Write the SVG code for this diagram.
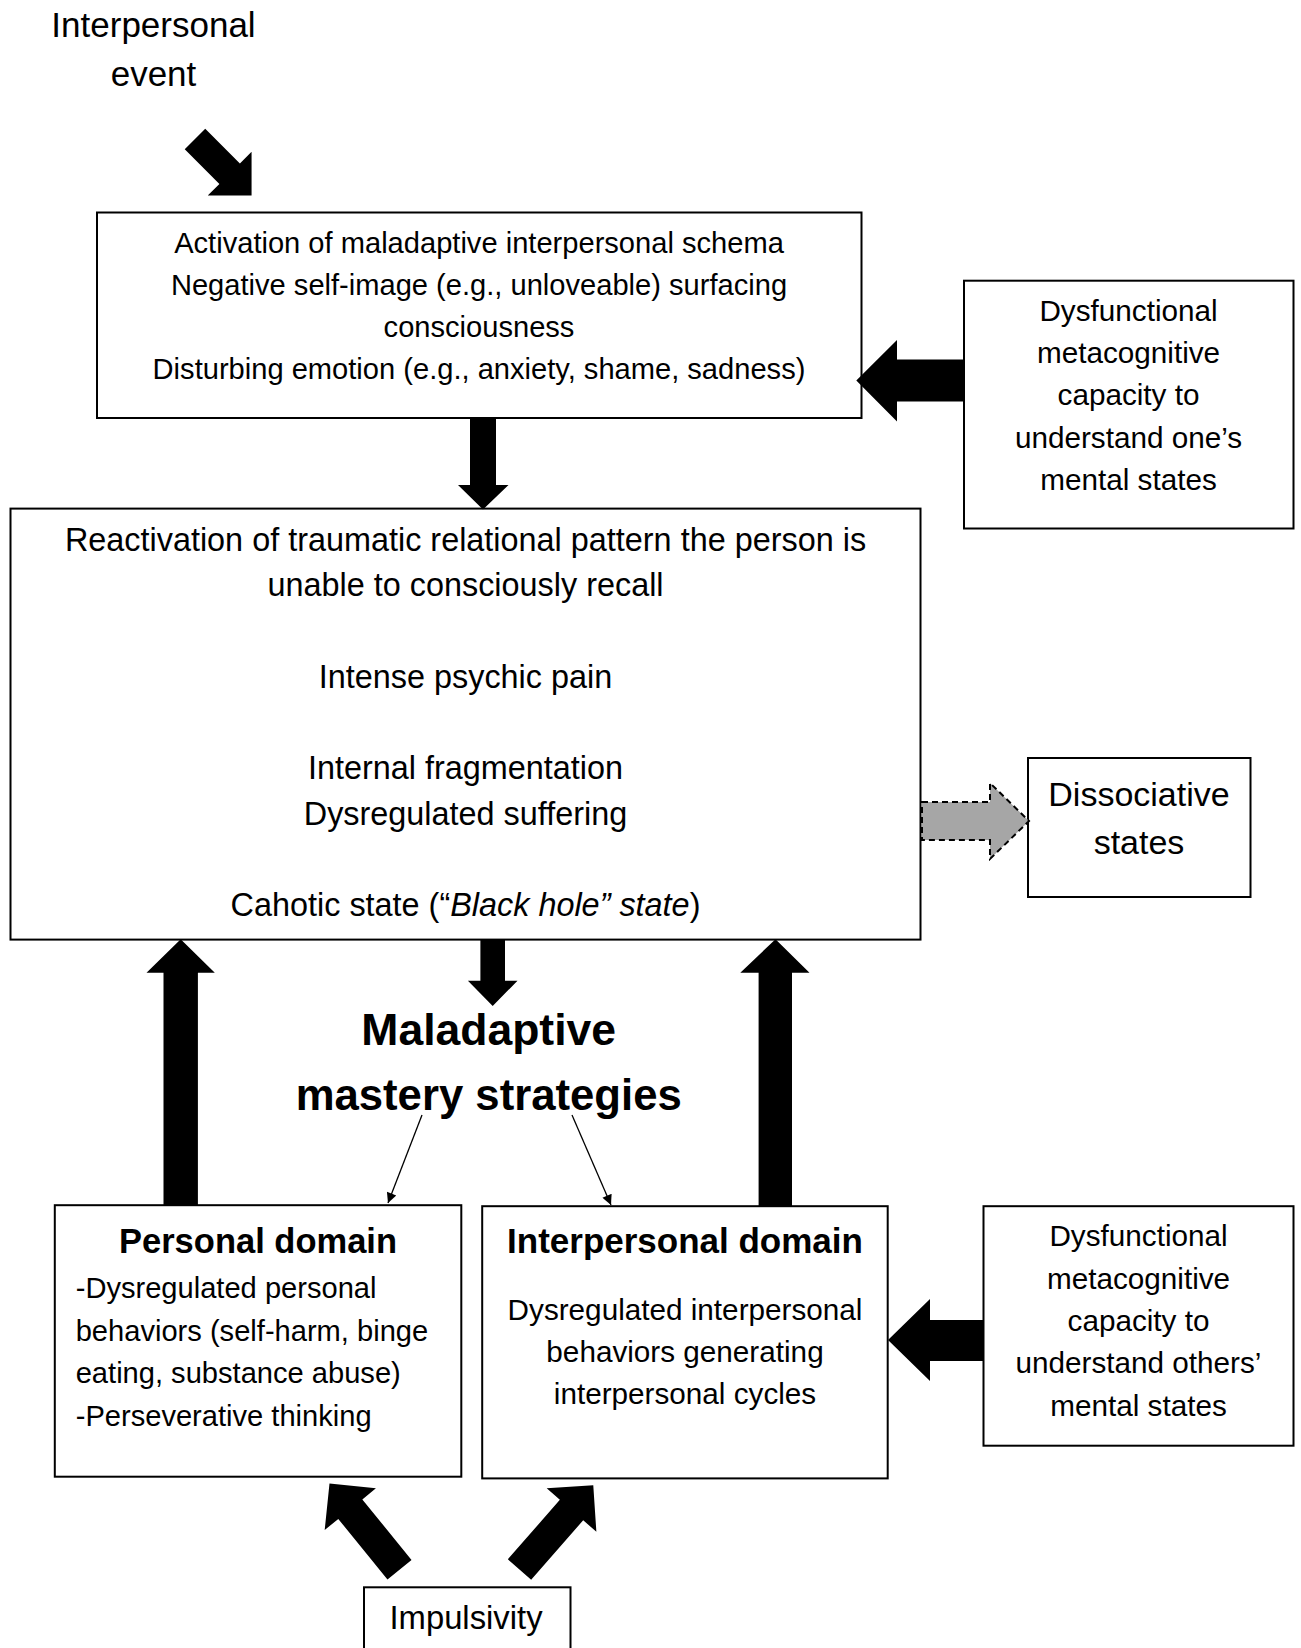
<svg xmlns="http://www.w3.org/2000/svg" width="1301" height="1648" viewBox="0 0 1301 1648">
<defs>
<style>
.box{fill:#fff;stroke:#000;stroke-width:2}
.t{font-family:"Liberation Sans",Arial,sans-serif;fill:#000;text-anchor:middle}
.s{font-size:29.7px}
.s2{font-size:29.1px}
.m{font-size:32.4px}
.b{font-weight:bold}
.l{text-anchor:start}
.blk{fill:#000;stroke:none}
.thin{stroke:#000;stroke-width:1.3;fill:none;marker-end:url(#ah)}
</style>
<marker id="ah" viewBox="0 0 10 10" refX="10" refY="5" markerWidth="12" markerHeight="10" markerUnits="userSpaceOnUse" orient="auto">
<path d="M0,0 L10,5 L0,10 Z" fill="#000"/>
</marker>
</defs>
<rect width="1301" height="1648" fill="#fff"/>

<g id="event">
<text class="t" x="153.5" y="37" font-size="35">Interpersonal</text>
<text class="t" x="153.5" y="86" font-size="35">event</text>
</g>

<g id="activation">
<rect class="box" x="97" y="212.5" width="764.5" height="205.5"/>
<text class="t s2" x="479" y="252.5">Activation of maladaptive interpersonal schema</text>
<text class="t s2" x="479" y="294.5">Negative self-image (e.g., unloveable) surfacing</text>
<text class="t s2" x="479" y="336.5">consciousness</text>
<text class="t s2" x="479" y="378.5">Disturbing emotion (e.g., anxiety, shame, sadness)</text>
</g>

<g id="meta-self">
<rect class="box" x="964" y="280.7" width="329.5" height="247.8"/>
<text class="t s" x="1128.5" y="320.5">Dysfunctional</text>
<text class="t s" x="1128.5" y="362.5">metacognitive</text>
<text class="t s" x="1128.5" y="405">capacity to</text>
<text class="t s" x="1128.5" y="447.5">understand one’s</text>
<text class="t s" x="1128.5" y="489.5">mental states</text>
</g>

<g id="reactivation">
<rect class="box" x="10.5" y="508.6" width="910" height="431"/>
<text class="t m" x="465.5" y="550.7">Reactivation of traumatic relational pattern the person is</text>
<text class="t m" x="465.5" y="596.3">unable to consciously recall</text>
<text class="t m" x="465.5" y="687.5">Intense psychic pain</text>
<text class="t m" x="465.5" y="779">Internal fragmentation</text>
<text class="t m" x="465.5" y="825">Dysregulated suffering</text>
<text class="t m" x="465.5" y="916">Cahotic state (“<tspan font-style="italic">Black hole” state</tspan>)</text>
</g>

<g id="dissociative">
<rect class="box" x="1028" y="758" width="222.5" height="139"/>
<text class="t" x="1139" y="806" font-size="34">Dissociative</text>
<text class="t" x="1139" y="854" font-size="34">states</text>
</g>

<g id="mastery">
<text class="t b" x="488.7" y="1044.5" font-size="44.5">Maladaptive</text>
<text class="t b" x="488.7" y="1109.5" font-size="43.7">mastery strategies</text>
</g>

<g id="personal">
<rect class="box" x="54.8" y="1205.2" width="406.5" height="271.5"/>
<text class="t b" x="258" y="1253" font-size="34.5">Personal domain</text>
<text class="t s2 l" x="75.7" y="1298">-Dysregulated personal</text>
<text class="t s2 l" x="75.7" y="1340.5">behaviors (self-harm, binge</text>
<text class="t s2 l" x="75.7" y="1383">eating, substance abuse)</text>
<text class="t s2 l" x="75.7" y="1425.5">-Perseverative thinking</text>
</g>

<g id="interpersonal">
<rect class="box" x="482.2" y="1206.2" width="405.5" height="272.2"/>
<text class="t b" x="685" y="1253" font-size="35">Interpersonal domain</text>
<text class="t s" x="685" y="1320">Dysregulated interpersonal</text>
<text class="t s" x="685" y="1362">behaviors generating</text>
<text class="t s" x="685" y="1404">interpersonal cycles</text>
</g>

<g id="meta-others">
<rect class="box" x="983.5" y="1206.2" width="310" height="239.5"/>
<text class="t s" x="1138.5" y="1246">Dysfunctional</text>
<text class="t s" x="1138.5" y="1288.5">metacognitive</text>
<text class="t s" x="1138.5" y="1331">capacity to</text>
<text class="t s" x="1138.5" y="1373">understand others’</text>
<text class="t s" x="1138.5" y="1415.5">mental states</text>
</g>

<g id="impulsivity">
<rect class="box" x="364" y="1587.3" width="206.5" height="80"/>
<text class="t" x="466" y="1629" font-size="32.8">Impulsivity</text>
</g>

<g id="connectors">
<path class="blk" transform="translate(195,139) rotate(45)" d="M0,-14.5 L49,-14.5 L49,-31 L80,0 L49,31 L49,14.5 L0,14.5 Z"/>
<path class="blk" d="M470,418 L496,418 L496,485 L508.5,485 L483,509.5 L458,485 L470,485 Z"/>
<path class="blk" d="M964,359.5 L897,359.5 L897,340 L856.3,380.5 L897,421.5 L897,401.5 L964,401.5 Z"/>
<path d="M922,802 L990,802 L990,783 L1029,821 L990,859 L990,840 L922,840 Z" fill="#a6a6a6" stroke="#000" stroke-width="2" stroke-dasharray="6,4"/>
<path class="blk" d="M163.5,1205 L163.5,972.7 L146.5,972.7 L180.7,939.3 L214.8,972.7 L197.9,972.7 L197.9,1205 Z"/>
<path class="blk" d="M480.4,939.5 L505,939.5 L505,980.7 L517.5,980.7 L492.7,1006 L467.9,980.7 L480.4,980.7 Z"/>
<path class="blk" d="M758.6,1206 L758.6,972.7 L740.3,972.7 L775.5,939.3 L809.5,972.7 L792,972.7 L792,1206 Z"/>
<path class="blk" d="M984,1320 L930,1320 L930,1299 L888,1340 L930,1381 L930,1361 L984,1361 Z"/>
<path class="blk" transform="translate(399.5,1569.7) rotate(-129.1)" d="M0,-15.5 L78,-15.5 L78,-33 L111,0 L78,33 L78,15.5 L0,15.5 Z"/>
<path class="blk" transform="translate(519.5,1569.5) rotate(-48.8)" d="M0,-15.5 L79,-15.5 L79,-33 L112,0 L79,33 L79,15.5 L0,15.5 Z"/>
<line class="thin" x1="422" y1="1115" x2="388" y2="1203"/>
<line class="thin" x1="572" y1="1115" x2="611" y2="1205"/>
</g>
</svg>
